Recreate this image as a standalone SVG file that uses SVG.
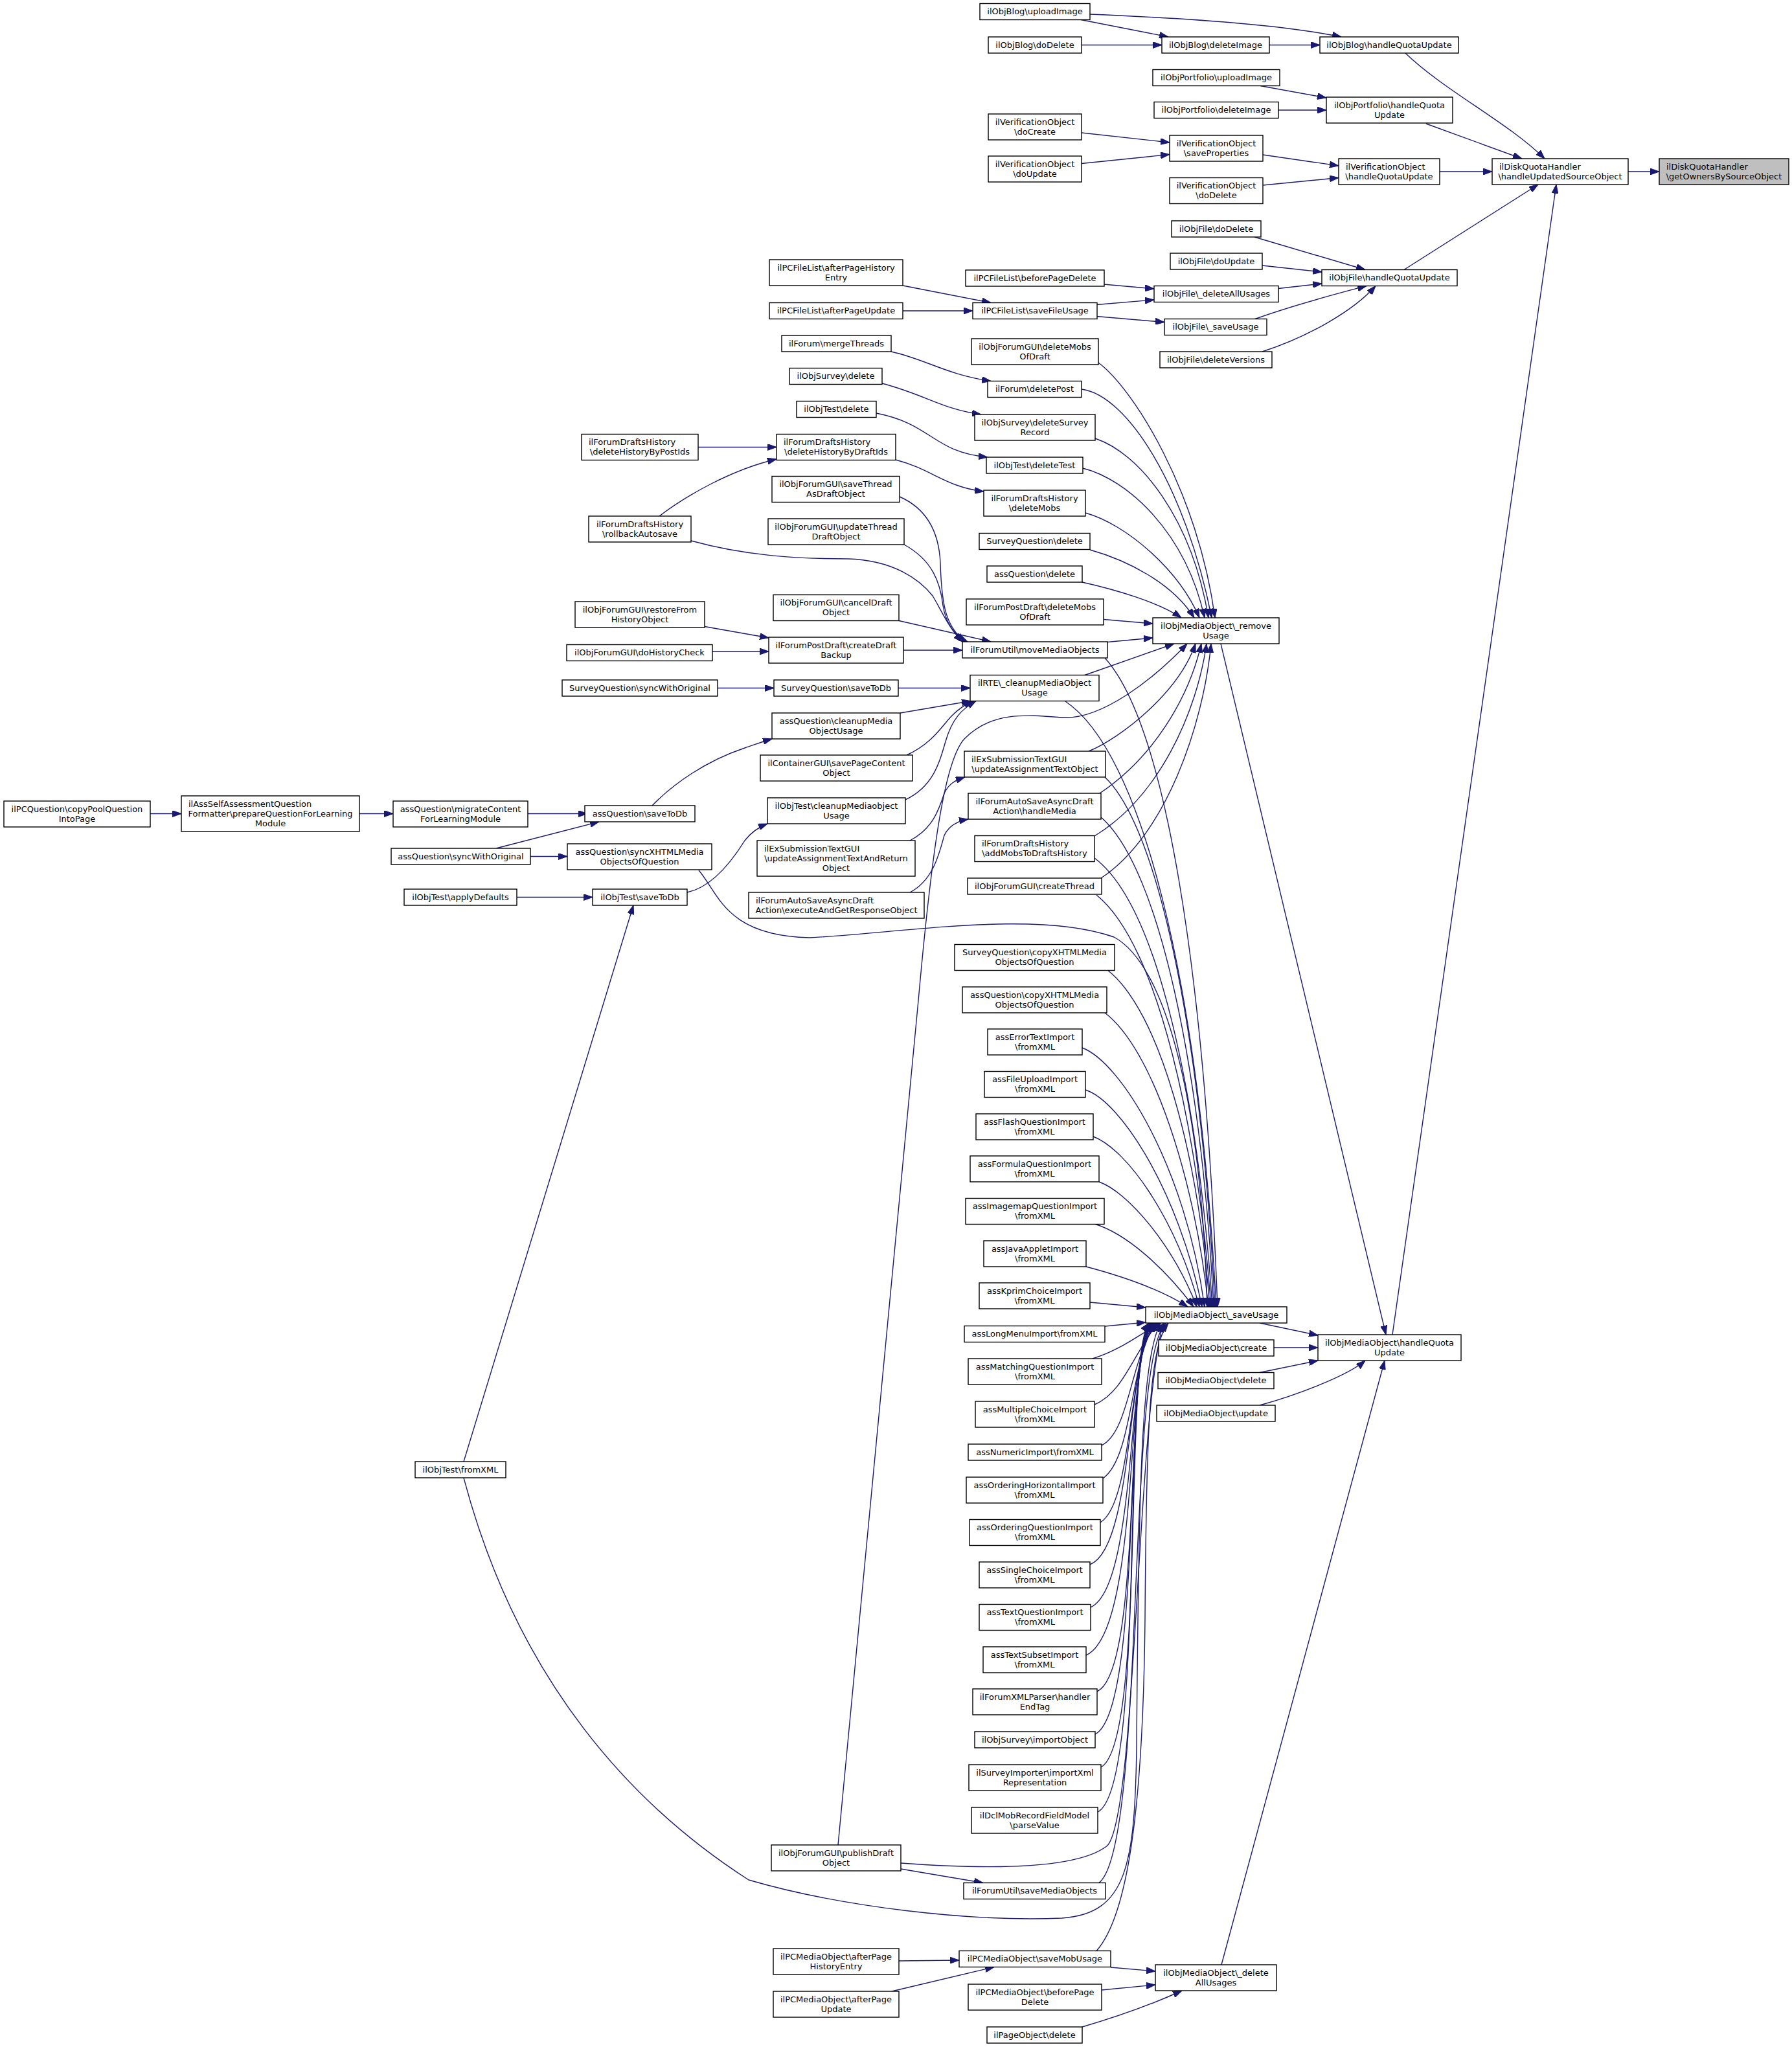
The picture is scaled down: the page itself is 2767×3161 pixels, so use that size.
<svg xmlns="http://www.w3.org/2000/svg" width="2767" height="3161" viewBox="0 0 2767 3161">
<style>
.box{fill:#ffffff;stroke:#000000;stroke-width:1.4}
.sel{fill:#bfbfbf}
text{font-family:"DejaVu Sans","Liberation Sans",sans-serif;font-size:13px;fill:#000000}
.c{text-anchor:middle}
.l{text-anchor:start}
.e{fill:none;stroke:#191970;stroke-width:1.4;marker-end:url(#arr)}
</style>
<defs>
<marker id="arr" markerUnits="userSpaceOnUse" markerWidth="14" markerHeight="10" refX="14" refY="5" orient="auto">
<path d="M0,0 L14,5 L0,10 z" fill="#191970" stroke="#191970" stroke-width="1"/>
</marker>
</defs>
<rect x="0" y="0" width="2767" height="3161" fill="#ffffff"/>
<g id="edges">
<path class="e" d="M2514,265 L2562,265"/>
<path class="e" d="M2170,82 C2230,140 2330,190 2385,245"/>
<path class="e" d="M2202,191 L2350,245"/>
<path class="e" d="M2223,265 L2304,265"/>
<path class="e" d="M2168,416.5 L2375,285"/>
<path class="e" d="M2150,2061 L2403,285"/>
<path class="e" d="M1683,22 C1830,28 1980,38 2071,57"/>
<path class="e" d="M1669,30.5 L1804,57"/>
<path class="e" d="M1670,69.5 L1794,69.5"/>
<path class="e" d="M1960,69.5 L2038,69.5"/>
<path class="e" d="M1946,132.5 L2048,151"/>
<path class="e" d="M1974,170 L2048,170"/>
<path class="e" d="M1670,205 L1806,220"/>
<path class="e" d="M1670,252.5 L1806,238.5"/>
<path class="e" d="M1950,239 L2067,256"/>
<path class="e" d="M1950,286 L2067,274.5"/>
<path class="e" d="M1937,366 L2108,416.5"/>
<path class="e" d="M1949,410 L2041,420"/>
<path class="e" d="M1974,445.5 L2041,438"/>
<path class="e" d="M1938,492.5 C2000,470 2070,452 2110,441.5"/>
<path class="e" d="M1949,543 C2020,520 2090,480 2124,441.5"/>
<path class="e" d="M1704,439 L1782,446"/>
<path class="e" d="M1693,470.5 L1782,463"/>
<path class="e" d="M1693,488.5 L1798,497.5"/>
<path class="e" d="M1394,441 L1530,467.5"/>
<path class="e" d="M1394,480 L1502,480"/>
<path class="e" d="M1696,560 C1750,600 1850,760 1876,954"/>
<path class="e" d="M1670,601 C1740,610 1830,750 1871,954"/>
<path class="e" d="M1691,677 C1760,700 1840,800 1866,954"/>
<path class="e" d="M1672,723 C1740,740 1830,820 1860,954"/>
<path class="e" d="M1676,792 C1740,810 1820,880 1852,954"/>
<path class="e" d="M1683,849 C1740,865 1810,900 1844,954"/>
<path class="e" d="M1671,899 C1720,910 1790,930 1824,954"/>
<path class="e" d="M1704,956.5 L1780,963"/>
<path class="e" d="M1710,991.5 L1780,985"/>
<path class="e" d="M1675,1042.5 L1813,994"/>
<path class="e" d="M1294,2849 L1418,1545 C1440,1300 1460,1170 1490,1140 C1530,1100 1580,1103 1640,1108 C1700,1112 1780,1050 1833,994"/>
<path class="e" d="M1681,1160 C1730,1140 1820,1070 1846,994"/>
<path class="e" d="M1698,1225 C1780,1170 1835,1080 1855,994"/>
<path class="e" d="M1690,1291 C1790,1230 1848,1100 1863,994"/>
<path class="e" d="M1700,1356 C1800,1290 1858,1120 1870,994"/>
<path class="e" d="M1885,994 L2140,2061"/>
<path class="e" d="M1376,543 C1430,555 1460,578 1530,588.5"/>
<path class="e" d="M1362,592 C1430,610 1455,632 1515,640"/>
<path class="e" d="M1353,638 C1440,655 1440,698 1525,706"/>
<path class="e" d="M1078,690.5 L1199,690.5"/>
<path class="e" d="M1383,710 C1440,725 1460,752 1519,759"/>
<path class="e" d="M1018,797 C1060,765 1130,725 1199,709"/>
<path class="e" d="M1067,835 C1150,858 1230,863 1309,863 C1380,865 1420,895 1440,920 C1455,945 1465,970 1486,991"/>
<path class="e" d="M1389,767 C1430,785 1450,820 1452,870 C1454,940 1462,968 1490,991"/>
<path class="e" d="M1396,841 C1440,865 1452,900 1456,935 C1460,960 1472,980 1494,991"/>
<path class="e" d="M1388,958.5 L1530,991"/>
<path class="e" d="M1395,1004 L1486,1004"/>
<path class="e" d="M1088,967.5 L1187,985"/>
<path class="e" d="M1100,1006 L1187,1006"/>
<path class="e" d="M1108,1062.5 L1195,1062.5"/>
<path class="e" d="M1387,1062.5 L1498,1062.5"/>
<path class="e" d="M1390,1101 L1499,1082.5"/>
<path class="e" d="M1400,1166 C1440,1148 1455,1120 1470,1105 C1480,1095 1490,1088 1502,1082.5"/>
<path class="e" d="M1398,1235 C1440,1215 1450,1180 1460,1145 C1470,1110 1485,1095 1507,1082.5"/>
<path class="e" d="M1405,1298 C1440,1280 1450,1250 1458,1225 C1465,1210 1475,1205 1490,1200"/>
<path class="e" d="M1405,1378 C1440,1360 1450,1320 1458,1290 C1465,1275 1478,1268 1495,1265"/>
<path class="e" d="M1007,1244 C1040,1210 1090,1175 1150,1155 C1165,1150 1178,1145 1192,1141"/>
<path class="e" d="M1061,1378 C1100,1370 1130,1330 1150,1298 C1160,1285 1172,1277 1185,1272"/>
<path class="e" d="M766,1310 L925,1269"/>
<path class="e" d="M819,1322.5 L876,1322.5"/>
<path class="e" d="M815,1256.5 L907,1256.5"/>
<path class="e" d="M555,1256.5 L607,1256.5"/>
<path class="e" d="M232,1256.5 L280,1256.5"/>
<path class="e" d="M798,1385.5 L915,1385.5"/>
<path class="e" d="M716,2257 L978,1398"/>
<path class="e" d="M716,2282 C800,2600 980,2790 1156,2903 C1300,2945 1500,2968 1640,2962 C1740,2955 1752,2880 1755,2700 C1758,2300 1762,2100 1792,2043"/>
<path class="e" d="M1079,1344 C1110,1380 1120,1445 1250,1448 C1400,1440 1600,1405 1720,1447 C1800,1490 1855,1700 1864,2018"/>
<path class="e" d="M1706,1016 C1800,1120 1860,1500 1880,2018"/>
<path class="e" d="M1645,1083 C1760,1160 1850,1500 1878,2018"/>
<path class="e" d="M1706,1200 C1790,1280 1855,1600 1876,2018"/>
<path class="e" d="M1700,1262 C1790,1340 1855,1650 1874,2018"/>
<path class="e" d="M1690,1325 C1790,1400 1850,1700 1872,2018"/>
<path class="e" d="M1693,1382 C1790,1460 1850,1750 1870,2018"/>
<path class="e" d="M1710,1498 C1790,1560 1850,1780 1868,2018"/>
<path class="e" d="M1706,1564 C1780,1620 1845,1820 1866,2018"/>
<path class="e" d="M1671,1618 C1730,1640 1830,1800 1860,2018"/>
<path class="e" d="M1676,1683 C1730,1700 1820,1840 1856,2018"/>
<path class="e" d="M1688,1755 C1740,1775 1815,1880 1852,2018"/>
<path class="e" d="M1697,1825 C1740,1840 1810,1920 1848,2018"/>
<path class="e" d="M1690,1890 C1740,1905 1800,1960 1843,2018"/>
<path class="e" d="M1677,1956 C1730,1970 1790,1990 1834,2018"/>
<path class="e" d="M1683,2011 L1769,2019"/>
<path class="e" d="M1706,2048 L1769,2042"/>
<path class="e" d="M1687,2098 C1730,2085 1760,2060 1792,2043"/>
<path class="e" d="M1690,2169 C1735,2150 1750,2090 1788,2043"/>
<path class="e" d="M1701,2232 C1745,2210 1745,2095 1786,2043"/>
<path class="e" d="M1703,2283 C1750,2250 1745,2100 1784,2043"/>
<path class="e" d="M1699,2351 C1750,2320 1742,2100 1782,2043"/>
<path class="e" d="M1683,2416 C1750,2390 1740,2100 1780,2043"/>
<path class="e" d="M1684,2482 C1755,2450 1740,2100 1779,2043"/>
<path class="e" d="M1677,2556 C1760,2520 1738,2100 1778,2043"/>
<path class="e" d="M1694,2612 C1765,2580 1736,2100 1777,2043"/>
<path class="e" d="M1691,2678 C1765,2640 1735,2100 1776,2043"/>
<path class="e" d="M1700,2729 C1770,2690 1734,2100 1775,2043"/>
<path class="e" d="M1695,2798 C1770,2760 1732,2100 1774,2043"/>
<path class="e" d="M1391,2877 C1500,2885 1660,2890 1710,2850 C1755,2800 1755,2200 1796,2043"/>
<path class="e" d="M1391,2886 L1518,2907.5"/>
<path class="e" d="M1696,2908 C1770,2860 1738,2100 1800,2043"/>
<path class="e" d="M1693,3012.5 C1740,2960 1765,2800 1768,2500 C1770,2200 1775,2080 1804,2043"/>
<path class="e" d="M1388,3028 L1481,3027"/>
<path class="e" d="M1377,3075 L1535,3037.5"/>
<path class="e" d="M1715,3038 L1784,3044"/>
<path class="e" d="M1701,3073 L1784,3065"/>
<path class="e" d="M1671,3130 C1740,3110 1790,3090 1825,3074"/>
<path class="e" d="M1886,3034 L2138,2101"/>
<path class="e" d="M1945,2043 L2035,2062"/>
<path class="e" d="M1967,2081 L2035,2081"/>
<path class="e" d="M1945,2119.5 L2035,2101"/>
<path class="e" d="M1945,2170 C2000,2155 2080,2125 2108,2101"/>
</g>
<g id="n_getOwners"><rect class="box sel" x="2562" y="245" width="200" height="40"/><text class="l" x="2573" y="261.5">ilDiskQuotaHandler</text><text class="c" x="2662" y="276.5">\getOwnersBySourceObject</text></g>
<g id="n_hUSO"><rect class="box" x="2304" y="245" width="210" height="40"/><text class="l" x="2315" y="261.5">ilDiskQuotaHandler</text><text class="c" x="2409" y="276.5">\handleUpdatedSourceObject</text></g>
<g id="n_blogHQU"><rect class="box" x="2038" y="57" width="214" height="25"/><text class="c" x="2145" y="73.5">ilObjBlog\handleQuotaUpdate</text></g>
<g id="n_portHQU"><rect class="box" x="2048" y="150" width="195" height="40"/><text class="c" x="2145.5" y="166.5">ilObjPortfolio\handleQuota</text><text class="c" x="2145.5" y="181.5">Update</text></g>
<g id="n_verHQU"><rect class="box" x="2067" y="245" width="156" height="40"/><text class="l" x="2078" y="261.5">ilVerificationObject</text><text class="c" x="2145" y="276.5">\handleQuotaUpdate</text></g>
<g id="n_fileHQU"><rect class="box" x="2041" y="416.5" width="209" height="25"/><text class="c" x="2145.5" y="433">ilObjFile\handleQuotaUpdate</text></g>
<g id="n_mobHQU"><rect class="box" x="2035" y="2061" width="221" height="40"/><text class="c" x="2145.5" y="2077.5">ilObjMediaObject\handleQuota</text><text class="c" x="2145.5" y="2092.5">Update</text></g>
<g id="n_blogDelImg"><rect class="box" x="1794" y="57" width="166" height="25"/><text class="c" x="1877" y="73.5">ilObjBlog\deleteImage</text></g>
<g id="n_portUpl"><rect class="box" x="1780" y="107.5" width="196" height="25"/><text class="c" x="1878" y="124">ilObjPortfolio\uploadImage</text></g>
<g id="n_portDel"><rect class="box" x="1782" y="157.5" width="192" height="25"/><text class="c" x="1878" y="174">ilObjPortfolio\deleteImage</text></g>
<g id="n_verSave"><rect class="box" x="1806" y="209" width="144" height="40"/><text class="c" x="1878" y="225.5">ilVerificationObject</text><text class="c" x="1878" y="240.5">\saveProperties</text></g>
<g id="n_verDoDel"><rect class="box" x="1806" y="274.5" width="144" height="40"/><text class="c" x="1878" y="291">ilVerificationObject</text><text class="c" x="1878" y="306">\doDelete</text></g>
<g id="n_fileDoDel"><rect class="box" x="1809" y="341" width="138" height="25"/><text class="c" x="1878" y="357.5">ilObjFile\doDelete</text></g>
<g id="n_fileDoUpd"><rect class="box" x="1807" y="391" width="142" height="25"/><text class="c" x="1878" y="407.5">ilObjFile\doUpdate</text></g>
<g id="n_fileDelAll"><rect class="box" x="1782" y="441.5" width="192" height="25"/><text class="c" x="1878" y="458">ilObjFile\_deleteAllUsages</text></g>
<g id="n_fileSave"><rect class="box" x="1798" y="492.5" width="158" height="25"/><text class="c" x="1877" y="509">ilObjFile\_saveUsage</text></g>
<g id="n_fileDelVer"><rect class="box" x="1791" y="543" width="173" height="25"/><text class="c" x="1877.5" y="559.5">ilObjFile\deleteVersions</text></g>
<g id="n_mobRemove"><rect class="box" x="1780" y="954" width="195" height="40"/><text class="c" x="1877.5" y="970.5">ilObjMediaObject\_remove</text><text class="c" x="1877.5" y="985.5">Usage</text></g>
<g id="n_mobSave"><rect class="box" x="1769" y="2018" width="218" height="25"/><text class="c" x="1878" y="2034.5">ilObjMediaObject\_saveUsage</text></g>
<g id="n_mobCreate"><rect class="box" x="1789" y="2069" width="178" height="25"/><text class="c" x="1878" y="2085.5">ilObjMediaObject\create</text></g>
<g id="n_mobDelete"><rect class="box" x="1788" y="2119.5" width="179" height="25"/><text class="c" x="1877.5" y="2136">ilObjMediaObject\delete</text></g>
<g id="n_mobUpdate"><rect class="box" x="1786" y="2170" width="183" height="25"/><text class="c" x="1877.5" y="2186.5">ilObjMediaObject\update</text></g>
<g id="n_mobDelAll"><rect class="box" x="1784" y="3034" width="187" height="40"/><text class="c" x="1877.5" y="3050.5">ilObjMediaObject\_delete</text><text class="c" x="1877.5" y="3065.5">AllUsages</text></g>
<g id="n_blogUpl"><rect class="box" x="1513" y="5.5" width="170" height="25"/><text class="c" x="1598" y="22">ilObjBlog\uploadImage</text></g>
<g id="n_blogDoDel"><rect class="box" x="1526" y="57" width="144" height="25"/><text class="c" x="1598" y="73.5">ilObjBlog\doDelete</text></g>
<g id="n_verCreate"><rect class="box" x="1526" y="176" width="144" height="40"/><text class="c" x="1598" y="192.5">ilVerificationObject</text><text class="c" x="1598" y="207.5">\doCreate</text></g>
<g id="n_verUpdate"><rect class="box" x="1526" y="241" width="144" height="40"/><text class="c" x="1598" y="257.5">ilVerificationObject</text><text class="c" x="1598" y="272.5">\doUpdate</text></g>
<g id="n_pcflBefore"><rect class="box" x="1491" y="417" width="214" height="25"/><text class="c" x="1598" y="433.5">ilPCFileList\beforePageDelete</text></g>
<g id="n_pcflSave"><rect class="box" x="1502" y="467.5" width="192" height="25"/><text class="c" x="1598" y="484">ilPCFileList\saveFileUsage</text></g>
<g id="n_fguiDelMobs"><rect class="box" x="1500" y="523" width="196" height="40"/><text class="c" x="1598" y="539.5">ilObjForumGUI\deleteMobs</text><text class="c" x="1598" y="554.5">OfDraft</text></g>
<g id="n_forumDelPost"><rect class="box" x="1525" y="588.5" width="145" height="25"/><text class="c" x="1597.5" y="605">ilForum\deletePost</text></g>
<g id="n_survDelRec"><rect class="box" x="1505" y="640" width="186" height="40"/><text class="c" x="1598" y="656.5">ilObjSurvey\deleteSurvey</text><text class="c" x="1598" y="671.5">Record</text></g>
<g id="n_testDelTest"><rect class="box" x="1523" y="706" width="149" height="25"/><text class="c" x="1597.5" y="722.5">ilObjTest\deleteTest</text></g>
<g id="n_fdhDelMobs"><rect class="box" x="1519" y="757" width="157" height="40"/><text class="c" x="1597.5" y="773.5">ilForumDraftsHistory</text><text class="c" x="1597.5" y="788.5">\deleteMobs</text></g>
<g id="n_sqDelete"><rect class="box" x="1512" y="823.5" width="171" height="25"/><text class="c" x="1597.5" y="840">SurveyQuestion\delete</text></g>
<g id="n_aqDelete"><rect class="box" x="1524" y="874" width="147" height="25"/><text class="c" x="1597.5" y="890.5">assQuestion\delete</text></g>
<g id="n_fpdDelMobs"><rect class="box" x="1492" y="925" width="212" height="40"/><text class="c" x="1598" y="941.5">ilForumPostDraft\deleteMobs</text><text class="c" x="1598" y="956.5">OfDraft</text></g>
<g id="n_fuMove"><rect class="box" x="1486" y="991" width="224" height="25"/><text class="c" x="1598" y="1007.5">ilForumUtil\moveMediaObjects</text></g>
<g id="n_rteCleanup"><rect class="box" x="1498" y="1042.5" width="199" height="40"/><text class="c" x="1597.5" y="1059">ilRTE\_cleanupMediaObject</text><text class="c" x="1597.5" y="1074">Usage</text></g>
<g id="n_exsUpdText"><rect class="box" x="1489" y="1160" width="218" height="40"/><text class="l" x="1500" y="1176.5">ilExSubmissionTextGUI</text><text class="c" x="1598" y="1191.5">\updateAssignmentTextObject</text></g>
<g id="n_fasHandle"><rect class="box" x="1495" y="1225" width="205" height="40"/><text class="c" x="1597.5" y="1241.5">ilForumAutoSaveAsyncDraft</text><text class="c" x="1597.5" y="1256.5">Action\handleMedia</text></g>
<g id="n_fdhAddMobs"><rect class="box" x="1505" y="1290.5" width="185" height="40"/><text class="l" x="1516" y="1307">ilForumDraftsHistory</text><text class="c" x="1597.5" y="1322">\addMobsToDraftsHistory</text></g>
<g id="n_fguiCreate"><rect class="box" x="1494" y="1356" width="207" height="25"/><text class="c" x="1597.5" y="1372.5">ilObjForumGUI\createThread</text></g>
<g id="n_sqCopy"><rect class="box" x="1474" y="1458.5" width="247" height="40"/><text class="c" x="1597.5" y="1475">SurveyQuestion\copyXHTMLMedia</text><text class="c" x="1597.5" y="1490">ObjectsOfQuestion</text></g>
<g id="n_aqCopy"><rect class="box" x="1486" y="1524" width="223" height="40"/><text class="c" x="1597.5" y="1540.5">assQuestion\copyXHTMLMedia</text><text class="c" x="1597.5" y="1555.5">ObjectsOfQuestion</text></g>
<g id="n_errImp"><rect class="box" x="1525" y="1589" width="146" height="40"/><text class="c" x="1598" y="1605.5">assErrorTextImport</text><text class="c" x="1598" y="1620.5">\fromXML</text></g>
<g id="n_fileUpImp"><rect class="box" x="1520" y="1654.5" width="156" height="40"/><text class="c" x="1598" y="1671">assFileUploadImport</text><text class="c" x="1598" y="1686">\fromXML</text></g>
<g id="n_flashImp"><rect class="box" x="1507" y="1720" width="181" height="40"/><text class="c" x="1597.5" y="1736.5">assFlashQuestionImport</text><text class="c" x="1597.5" y="1751.5">\fromXML</text></g>
<g id="n_formulaImp"><rect class="box" x="1498" y="1785" width="199" height="40"/><text class="c" x="1597.5" y="1801.5">assFormulaQuestionImport</text><text class="c" x="1597.5" y="1816.5">\fromXML</text></g>
<g id="n_imagemapImp"><rect class="box" x="1491" y="1850.5" width="214" height="40"/><text class="c" x="1598" y="1867">assImagemapQuestionImport</text><text class="c" x="1598" y="1882">\fromXML</text></g>
<g id="n_javaImp"><rect class="box" x="1519" y="1916" width="158" height="40"/><text class="c" x="1598" y="1932.5">assJavaAppletImport</text><text class="c" x="1598" y="1947.5">\fromXML</text></g>
<g id="n_kprimImp"><rect class="box" x="1512" y="1981" width="171" height="40"/><text class="c" x="1597.5" y="1997.5">assKprimChoiceImport</text><text class="c" x="1597.5" y="2012.5">\fromXML</text></g>
<g id="n_longMenuImp"><rect class="box" x="1489" y="2047.5" width="217" height="25"/><text class="c" x="1597.5" y="2064">assLongMenuImport\fromXML</text></g>
<g id="n_matchImp"><rect class="box" x="1495" y="2098" width="206" height="40"/><text class="c" x="1598" y="2114.5">assMatchingQuestionImport</text><text class="c" x="1598" y="2129.5">\fromXML</text></g>
<g id="n_mcImp"><rect class="box" x="1506" y="2164" width="184" height="40"/><text class="c" x="1598" y="2180.5">assMultipleChoiceImport</text><text class="c" x="1598" y="2195.5">\fromXML</text></g>
<g id="n_numImp"><rect class="box" x="1495" y="2230" width="206" height="25"/><text class="c" x="1598" y="2246.5">assNumericImport\fromXML</text></g>
<g id="n_ordHImp"><rect class="box" x="1492" y="2281" width="211" height="40"/><text class="c" x="1597.5" y="2297.5">assOrderingHorizontalImport</text><text class="c" x="1597.5" y="2312.5">\fromXML</text></g>
<g id="n_ordQImp"><rect class="box" x="1497" y="2346.5" width="202" height="40"/><text class="c" x="1598" y="2363">assOrderingQuestionImport</text><text class="c" x="1598" y="2378">\fromXML</text></g>
<g id="n_scImp"><rect class="box" x="1512" y="2412" width="171" height="40"/><text class="c" x="1597.5" y="2428.5">assSingleChoiceImport</text><text class="c" x="1597.5" y="2443.5">\fromXML</text></g>
<g id="n_textQImp"><rect class="box" x="1512" y="2477.5" width="172" height="40"/><text class="c" x="1598" y="2494">assTextQuestionImport</text><text class="c" x="1598" y="2509">\fromXML</text></g>
<g id="n_textSubImp"><rect class="box" x="1518" y="2543" width="159" height="40"/><text class="c" x="1597.5" y="2559.5">assTextSubsetImport</text><text class="c" x="1597.5" y="2574.5">\fromXML</text></g>
<g id="n_fxmlEnd"><rect class="box" x="1502" y="2608" width="192" height="40"/><text class="c" x="1598" y="2624.5">ilForumXMLParser\handler</text><text class="c" x="1598" y="2639.5">EndTag</text></g>
<g id="n_survImport"><rect class="box" x="1505" y="2674" width="186" height="25"/><text class="c" x="1598" y="2690.5">ilObjSurvey\importObject</text></g>
<g id="n_survImporter"><rect class="box" x="1496" y="2725" width="204" height="40"/><text class="c" x="1598" y="2741.5">ilSurveyImporter\importXml</text><text class="c" x="1598" y="2756.5">Representation</text></g>
<g id="n_dclParse"><rect class="box" x="1500" y="2791" width="195" height="40"/><text class="c" x="1597.5" y="2807.5">ilDclMobRecordFieldModel</text><text class="c" x="1597.5" y="2822.5">\parseValue</text></g>
<g id="n_fuSaveMob"><rect class="box" x="1488" y="2907.5" width="219" height="25"/><text class="c" x="1597.5" y="2924">ilForumUtil\saveMediaObjects</text></g>
<g id="n_pcmoSaveMob"><rect class="box" x="1481" y="3012.5" width="234" height="25"/><text class="c" x="1598" y="3029">ilPCMediaObject\saveMobUsage</text></g>
<g id="n_pcmoBefore"><rect class="box" x="1495" y="3064" width="206" height="40"/><text class="c" x="1598" y="3080.5">ilPCMediaObject\beforePage</text><text class="c" x="1598" y="3095.5">Delete</text></g>
<g id="n_pageDelete"><rect class="box" x="1524" y="3130" width="147" height="25"/><text class="c" x="1597.5" y="3146.5">ilPageObject\delete</text></g>
<g id="n_pcflAfterHist"><rect class="box" x="1188" y="401" width="206" height="40"/><text class="c" x="1291" y="417.5">ilPCFileList\afterPageHistory</text><text class="c" x="1291" y="432.5">Entry</text></g>
<g id="n_pcflAfterUpd"><rect class="box" x="1188" y="467.5" width="206" height="25"/><text class="c" x="1291" y="484">ilPCFileList\afterPageUpdate</text></g>
<g id="n_forumMerge"><rect class="box" x="1207" y="518" width="169" height="25"/><text class="c" x="1291.5" y="534.5">ilForum\mergeThreads</text></g>
<g id="n_survDelete"><rect class="box" x="1219" y="568.5" width="143" height="25"/><text class="c" x="1290.5" y="585">ilObjSurvey\delete</text></g>
<g id="n_testDelete"><rect class="box" x="1230" y="619.5" width="123" height="25"/><text class="c" x="1291.5" y="636">ilObjTest\delete</text></g>
<g id="n_fdhDelByDraft"><rect class="box" x="1199" y="670.5" width="184" height="40"/><text class="l" x="1210" y="687">ilForumDraftsHistory</text><text class="c" x="1291" y="702">\deleteHistoryByDraftIds</text></g>
<g id="n_fguiSaveThread"><rect class="box" x="1192" y="735.5" width="197" height="40"/><text class="c" x="1290.5" y="752">ilObjForumGUI\saveThread</text><text class="c" x="1290.5" y="767">AsDraftObject</text></g>
<g id="n_fguiUpdThread"><rect class="box" x="1186" y="801" width="210" height="40"/><text class="c" x="1291" y="817.5">ilObjForumGUI\updateThread</text><text class="c" x="1291" y="832.5">DraftObject</text></g>
<g id="n_fguiCancel"><rect class="box" x="1194" y="918.5" width="194" height="40"/><text class="c" x="1291" y="935">ilObjForumGUI\cancelDraft</text><text class="c" x="1291" y="950">Object</text></g>
<g id="n_fpdCreateBackup"><rect class="box" x="1187" y="984" width="208" height="40"/><text class="c" x="1291" y="1000.5">ilForumPostDraft\createDraft</text><text class="c" x="1291" y="1015.5">Backup</text></g>
<g id="n_sqSaveToDb"><rect class="box" x="1195" y="1050" width="192" height="25"/><text class="c" x="1291" y="1066.5">SurveyQuestion\saveToDb</text></g>
<g id="n_aqCleanup"><rect class="box" x="1192" y="1101" width="198" height="40"/><text class="c" x="1291" y="1117.5">assQuestion\cleanupMedia</text><text class="c" x="1291" y="1132.5">ObjectUsage</text></g>
<g id="n_contSave"><rect class="box" x="1174" y="1166" width="235" height="40"/><text class="c" x="1291.5" y="1182.5">ilContainerGUI\savePageContent</text><text class="c" x="1291.5" y="1197.5">Object</text></g>
<g id="n_testCleanup"><rect class="box" x="1185" y="1232" width="213" height="40"/><text class="c" x="1291.5" y="1248.5">ilObjTest\cleanupMediaobject</text><text class="c" x="1291.5" y="1263.5">Usage</text></g>
<g id="n_exsUpdReturn"><rect class="box" x="1169" y="1298" width="244" height="55"/><text class="l" x="1180" y="1314.5">ilExSubmissionTextGUI</text><text class="c" x="1291" y="1329.5">\updateAssignmentTextAndReturn</text><text class="c" x="1291" y="1344.5">Object</text></g>
<g id="n_fasExec"><rect class="box" x="1156" y="1378" width="271" height="40"/><text class="l" x="1167" y="1394.5">ilForumAutoSaveAsyncDraft</text><text class="c" x="1291.5" y="1409.5">Action\executeAndGetResponseObject</text></g>
<g id="n_fguiPublish"><rect class="box" x="1191" y="2849" width="200" height="40"/><text class="c" x="1291" y="2865.5">ilObjForumGUI\publishDraft</text><text class="c" x="1291" y="2880.5">Object</text></g>
<g id="n_pcmoAfterHist"><rect class="box" x="1194" y="3009" width="194" height="40"/><text class="c" x="1291" y="3025.5">ilPCMediaObject\afterPage</text><text class="c" x="1291" y="3040.5">HistoryEntry</text></g>
<g id="n_pcmoAfterUpd"><rect class="box" x="1194" y="3075" width="194" height="40"/><text class="c" x="1291" y="3091.5">ilPCMediaObject\afterPage</text><text class="c" x="1291" y="3106.5">Update</text></g>
<g id="n_fdhDelByPost"><rect class="box" x="898" y="670.5" width="180" height="40"/><text class="l" x="909" y="687">ilForumDraftsHistory</text><text class="c" x="988" y="702">\deleteHistoryByPostIds</text></g>
<g id="n_fdhRollback"><rect class="box" x="909" y="797" width="158" height="40"/><text class="c" x="988" y="813.5">ilForumDraftsHistory</text><text class="c" x="988" y="828.5">\rollbackAutosave</text></g>
<g id="n_fguiRestore"><rect class="box" x="888" y="929" width="200" height="40"/><text class="c" x="988" y="945.5">ilObjForumGUI\restoreFrom</text><text class="c" x="988" y="960.5">HistoryObject</text></g>
<g id="n_fguiDoHist"><rect class="box" x="875" y="995.5" width="225" height="25"/><text class="c" x="987.5" y="1012">ilObjForumGUI\doHistoryCheck</text></g>
<g id="n_sqSync"><rect class="box" x="868" y="1050" width="240" height="25"/><text class="c" x="988" y="1066.5">SurveyQuestion\syncWithOriginal</text></g>
<g id="n_aqSaveToDb"><rect class="box" x="903" y="1244" width="170" height="25"/><text class="c" x="988" y="1260.5">assQuestion\saveToDb</text></g>
<g id="n_aqSyncXHTML"><rect class="box" x="876" y="1303" width="223" height="40"/><text class="c" x="987.5" y="1319.5">assQuestion\syncXHTMLMedia</text><text class="c" x="987.5" y="1334.5">ObjectsOfQuestion</text></g>
<g id="n_testSaveToDb"><rect class="box" x="915" y="1373" width="146" height="25"/><text class="c" x="988" y="1389.5">ilObjTest\saveToDb</text></g>
<g id="n_aqMigrate"><rect class="box" x="607" y="1237" width="208" height="40"/><text class="c" x="711" y="1253.5">assQuestion\migrateContent</text><text class="c" x="711" y="1268.5">ForLearningModule</text></g>
<g id="n_aqSyncOrig"><rect class="box" x="604" y="1310" width="215" height="25"/><text class="c" x="711.5" y="1326.5">assQuestion\syncWithOriginal</text></g>
<g id="n_testApply"><rect class="box" x="624" y="1373" width="174" height="25"/><text class="c" x="711" y="1389.5">ilObjTest\applyDefaults</text></g>
<g id="n_testFromXML"><rect class="box" x="641" y="2257" width="140" height="25"/><text class="c" x="711" y="2273.5">ilObjTest\fromXML</text></g>
<g id="n_assSelf"><rect class="box" x="280" y="1229" width="275" height="55"/><text class="l" x="291" y="1245.5">ilAssSelfAssessmentQuestion</text><text class="c" x="417.5" y="1260.5">Formatter\prepareQuestionForLearning</text><text class="c" x="417.5" y="1275.5">Module</text></g>
<g id="n_pcqCopy"><rect class="box" x="6" y="1237" width="226" height="40"/><text class="c" x="119" y="1253.5">ilPCQuestion\copyPoolQuestion</text><text class="c" x="119" y="1268.5">IntoPage</text></g>
</svg>
